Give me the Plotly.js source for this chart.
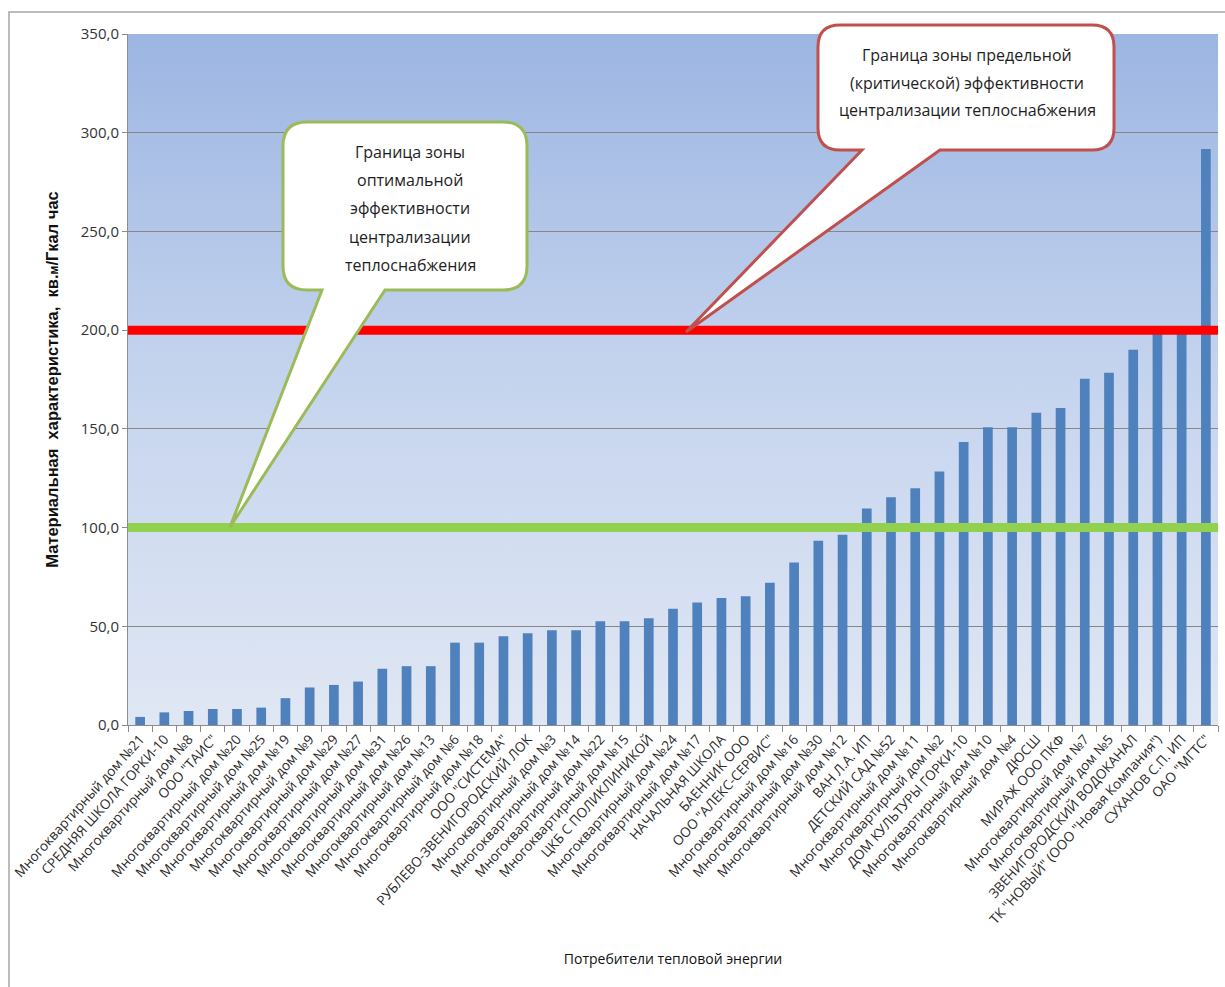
<!DOCTYPE html>
<html>
<head>
<meta charset="utf-8">
<script src="https://cdn.plot.ly/plotly-3.0.1.min.js"></script>
<style>
  html, body { margin: 0; padding: 0; background: #ffffff; }
  #chart { width: 1225px; height: 987px; }
</style>
</head>
<body>
<div id="chart"></div>
<script>
// Heat consumers, sorted by their material characteristic
const consumers = [
  'Многоквартирный дом №21',
  'СРЕДНЯЯ ШКОЛА ГОРКИ-10',
  'Многоквартирный дом №8',
  'ООО "ТАИС"',
  'Многоквартирный дом №20',
  'Многоквартирный дом №25',
  'Многоквартирный дом №19',
  'Многоквартирный дом №9',
  'Многоквартирный дом №29',
  'Многоквартирный дом №27',
  'Многоквартирный дом №31',
  'Многоквартирный дом №26',
  'Многоквартирный дом №13',
  'Многоквартирный дом №6',
  'Многоквартирный дом №18',
  'ООО "СИСТЕМА"',
  'РУБЛЕВО-ЗВЕНИГОРОДСКИЙ ЛОК',
  'Многоквартирный дом №3',
  'Многоквартирный дом №14',
  'Многоквартирный дом №22',
  'Многоквартирный дом №15',
  'ЦКБ С ПОЛИКЛИНИКОЙ',
  'Многоквартирный дом №24',
  'Многоквартирный дом №17',
  'НАЧАЛЬНАЯ ШКОЛА',
  'БАЕННИК ООО',
  'ООО "АЛЕКС-СЕРВИС"',
  'Многоквартирный дом №16',
  'Многоквартирный дом №30',
  'Многоквартирный дом №12',
  'ВАН Л.А. ИП',
  'ДЕТСКИЙ САД №52',
  'Многоквартирный дом №11',
  'Многоквартирный дом №2',
  'ДОМ КУЛЬТУРЫ ГОРКИ-10',
  'Многоквартирный дом №10',
  'Многоквартирный дом №4',
  'ДЮСШ',
  'МИРАЖ ООО ПКФ',
  'Многоквартирный дом №7',
  'Многоквартирный дом №5',
  'ЗВЕНИГОРОДСКИЙ ВОДОКАНАЛ',
  'ТК "НОВЫЙ" (ООО "Новая Компания")',
  'СУХАНОВ С.П. ИП',
  'ОАО "МГТС"'
];

// Material characteristic, sq. m per Gcal/h
const materialValues = [
  4.1, 6.4, 7.1, 8.1, 8.1, 8.8, 13.6, 19.0, 20.3, 22.0,
  28.5, 29.8, 29.8, 41.7, 41.7, 45.0, 46.5, 48.0, 48.0, 52.6,
  52.6, 54.1, 58.9, 62.1, 64.3, 65.2, 72.1, 82.3, 93.3, 96.4,
  109.7, 115.3, 119.9, 128.4, 143.3, 150.8, 150.8, 158.1, 160.6, 175.4,
  178.4, 190.1, 198.0, 198.0, 291.8
];

// Zone boundaries of centralised heat supply efficiency
const optimalBoundary = 100;
const criticalBoundary = 200;

const optimalText = ['Граница зоны', 'оптимальной', 'эффективности', 'централизации', 'теплоснабжения'];
const criticalText = ['Граница зоны предельной', '(критической) эффективности', 'централизации теплоснабжения'];

const yTitle = 'Материальная  характеристика,  кв.<span style="font-size:12px">м</span>/Гкал час';
const xTitle = 'Потребители тепловой энергии';

// ---- layout geometry (pixels) ----
const W = 1225, H = 987;
const M = { l: 128, r: 7, t: 34, b: 262 };
const plotW = W - M.l - M.r;
const plotH = H - M.t - M.b;
const px = x => (x - M.l) / plotW;
const py = y => (M.t + plotH - y) / plotH;

// rounded speech bubble with a pointer leaving its bottom edge
function bubblePath(x0, y0, x1, y1, r, b1, b2, tx, ty) {
  const P = (x, y) => px(x).toFixed(5) + ',' + py(y).toFixed(5);
  return 'M' + P(x0 + r, y0) +
    ' L' + P(x1 - r, y0) + ' Q' + P(x1, y0) + ' ' + P(x1, y0 + r) +
    ' L' + P(x1, y1 - r) + ' Q' + P(x1, y1) + ' ' + P(x1 - r, y1) +
    ' L' + P(b2, y1) + ' L' + P(tx, ty) + ' L' + P(b1, y1) +
    ' L' + P(x0 + r, y1) + ' Q' + P(x0, y1) + ' ' + P(x0, y1 - r) +
    ' L' + P(x0, y0 + r) + ' Q' + P(x0, y0) + ' ' + P(x0 + r, y0) + ' Z';
}

// vertical gradient behind the bars
const bgSvg =
  '<svg xmlns="http://www.w3.org/2000/svg" width="100" height="100" preserveAspectRatio="none">' +
  '<defs><linearGradient id="g" x1="0" y1="0" x2="0" y2="1">' +
  '<stop offset="0" stop-color="#9cb5e2"/>' +
  '<stop offset="0.5" stop-color="#c5d4ee"/>' +
  '<stop offset="1" stop-color="#e0e7f4"/>' +
  '</linearGradient></defs><rect width="100" height="100" fill="url(#g)"/></svg>';
const bgSrc = 'data:image/svg+xml;base64,' + btoa(bgSvg);

const textFont = { family: 'Open Sans, sans-serif', size: 16, color: '#1e1e1e' };

const annotations = [];
optimalText.forEach((line, i) => {
  annotations.push({
    xref: 'paper', yref: 'paper', x: px(410), y: py(152 + i * 28.2),
    text: line, showarrow: false, font: textFont, xanchor: 'center', yanchor: 'middle'
  });
});
criticalText.forEach((line, i) => {
  annotations.push({
    xref: 'paper', yref: 'paper', x: px(967), y: py(55 + i * 27.5),
    text: line, showarrow: false, font: textFont, xanchor: 'center', yanchor: 'middle'
  });
});

const shapes = [
  // outer frame of the chart
  {
    type: 'path', xref: 'paper', yref: 'paper', layer: 'above',
    path: 'M' + px(9) + ',' + py(995) + ' L' + px(9) + ',' + py(12) + ' L' + px(1232) + ',' + py(12),
    line: { color: '#a6a6a6', width: 1.5 }
  },
  // zone boundaries
  {
    type: 'line', xref: 'paper', yref: 'y', x0: 0, x1: 1,
    y0: optimalBoundary, y1: optimalBoundary, layer: 'above',
    line: { color: '#92d050', width: 9 }
  },
  {
    type: 'line', xref: 'paper', yref: 'y', x0: 0, x1: 1,
    y0: criticalBoundary, y1: criticalBoundary, layer: 'above',
    line: { color: '#ff0000', width: 9 }
  },
  // callouts
  {
    type: 'path', xref: 'paper', yref: 'paper', layer: 'above',
    path: bubblePath(283, 122, 527, 290, 24, 322, 385, 230, 527),
    fillcolor: '#ffffff', line: { color: '#9bbb59', width: 3 }
  },
  {
    type: 'path', xref: 'paper', yref: 'paper', layer: 'above',
    path: bubblePath(818, 25, 1114, 150, 22, 862, 940, 686, 332),
    fillcolor: '#ffffff', line: { color: '#c0504d', width: 3 }
  }
];

const data = [{
  type: 'bar',
  x: consumers,
  y: materialValues,
  marker: { color: '#4f81bd', line: { width: 0 } },
  hoverinfo: 'skip'
}];

const layout = {
  width: W, height: H,
  margin: M,
  paper_bgcolor: '#ffffff',
  plot_bgcolor: 'rgba(0,0,0,0)',
  separators: ', ',
  showlegend: false,
  bargap: 0.6,
  font: { family: 'Open Sans, sans-serif', color: '#333333' },
  images: [{
    source: bgSrc, xref: 'paper', yref: 'paper', x: 0, y: 1,
    sizex: 1, sizey: 1, xanchor: 'left', yanchor: 'top',
    sizing: 'stretch', layer: 'below'
  }],
  xaxis: {
    type: 'category',
    tickangle: -48,
    tickfont: { family: 'Open Sans, sans-serif', size: 13.5, color: '#2a2a2a' },
    ticks: 'outside', tickson: 'boundaries', ticklen: 6, tickcolor: '#8c8c8c', tickwidth: 1,
    showline: true, linecolor: '#8c8c8c', linewidth: 1,
    showgrid: false, zeroline: false,
    automargin: false,
    title: { text: xTitle, font: { family: 'Open Sans, sans-serif', size: 14, color: '#111111' }, standoff: 27 }
  },
  yaxis: {
    range: [0, 350], dtick: 50, tickformat: '.1f',
    tickfont: { family: 'Open Sans, sans-serif', size: 15, color: '#333333' },
    ticks: 'outside', ticklen: 5, tickcolor: '#8c8c8c', tickwidth: 1,
    showline: true, linecolor: '#8c8c8c', linewidth: 1,
    showgrid: true, gridcolor: '#868686', gridwidth: 1,
    zeroline: false, automargin: false,
    title: { text: yTitle, font: { family: 'Liberation Sans, Arial, sans-serif', size: 16.5, color: '#111111', weight: 'bold' }, standoff: 18 }
  },
  shapes: shapes,
  annotations: annotations
};

Plotly.newPlot('chart', data, layout, { staticPlot: true, displayModeBar: false });
</script>
</body>
</html>
